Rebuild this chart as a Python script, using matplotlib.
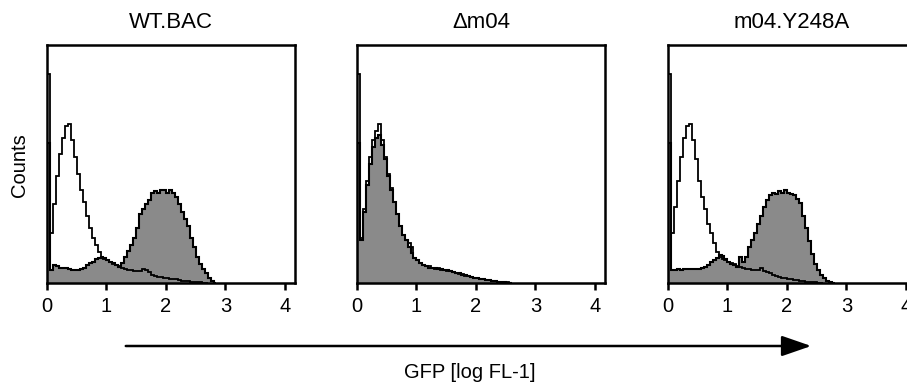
import numpy as np
import matplotlib
matplotlib.use("Agg")
import matplotlib.pyplot as plt

plt.rcParams["font.family"] = ["Liberation Sans", "DejaVu Sans"]

# histogram bins (log FL-1), 0.05 wide starting at 0
BIN_WIDTH = 0.05

titles = ["WT.BAC", "\u0394m04", "m04.Y248A"]

# unstained control (open) and GFP sample (filled), counts per bin
wt_open = [88, 21, 33, 45, 54, 61, 66, 67, 60, 53, 46, 39, 34, 28, 23, 19, 16, 13,
           11, 10, 9.5, 9, 8, 7.5, 7, 6.5, 6, 5.5, 5.5, 5, 5, 5, 6, 5.5, 4.5, 3.5,
           3, 2.5, 2.5, 2, 2, 1.8, 1.5, 1.5, 1.2, 1, 1, 0.8, 0.6, 0.5, 0.4, 0.3, 0.2, 0]
wt_filled = [59, 5.5, 7.5, 7, 6.5, 6.3, 6.5, 6, 5.5, 5.5, 5.5, 6, 6.5, 7.5, 8.5, 9,
             10, 10.5, 11, 10.5, 9.5, 9, 8.5, 7.5, 6.7, 8.5, 11, 13.5, 16, 19, 23,
             29, 31, 33, 35, 38, 38.5, 38, 39, 39, 38, 39, 38, 36, 33, 30, 27, 24,
             19, 15, 11, 8, 6, 4, 2, 0.8, 0]

d04_open = [88, 19, 31, 43, 53, 60, 64, 67, 60, 53, 46, 40, 34, 29, 24, 20, 18, 17,
            15, 10.5, 9.5, 8.5, 7.5, 7.2, 7, 6.5, 6, 6.2, 5.6, 5.5, 5.2, 5.1, 4.6,
            4.4, 3.9, 3.6, 3.1, 2.9, 2.4, 2.3, 2.1, 1.7, 1.6, 1.2, 1.2, 0.8, 0.8,
            0.5, 0.5, 0.3, 0.3, 0]
d04_filled = [59, 18, 30, 41, 50, 57, 61, 62, 58, 52, 45, 39, 34, 29, 24, 20, 18, 15,
              12.5, 10.5, 9.5, 8.5, 7.5, 7, 6.5, 6.3, 6.3, 6, 5.8, 5.5, 5.3, 5, 4.7,
              4.3, 4, 3.5, 3.2, 2.8, 2.5, 2.3, 2, 1.8, 1.5, 1.3, 1.1, 0.9, 0.7, 0.5,
              0.4, 0.3, 0.2, 0]

y248_open = [88, 21, 32, 43, 53, 61, 66, 67, 60, 52, 43, 36, 31, 25, 21, 17, 13, 11,
             10, 9.7, 9, 8.4, 8, 7.3, 6.8, 6.3, 6, 5.8, 5.5, 5.5, 5.5, 6.3, 5, 4.5,
             4, 3.3, 2.8, 2.4, 2.2, 2, 1.8, 1.6, 1.4, 1.2, 1, 0.8, 0.6, 0.5, 0.4,
             0.3, 0.2, 0]
y248_filled = [59, 5.5, 5.5, 6, 5.5, 5.8, 6, 5.8, 6, 5.7, 6, 6.3, 6.7, 7.5, 8.8, 9.5,
               10.5, 11.8, 11.5, 10, 8.8, 8, 7.6, 6.7, 11, 8.8, 11, 15, 18, 21, 25,
               28, 32, 35, 37, 38, 37.5, 38.5, 38, 39, 38, 37.5, 37, 35.5, 33.5, 28,
               23, 17.5, 12, 8, 5.5, 3.5, 2, 1, 0.4, 0]

open_series = [wt_open, d04_open, y248_open]
filled_series = [wt_filled, d04_filled, y248_filled]

xticks = [0, 1, 2, 3, 4]

W, H = 907, 388
fig = plt.figure(figsize=(W / 100, H / 100), dpi=100)

lefts = [47, 357, 668]
ax_w, ax_top, ax_bot = 248, 45, 283
FS = 14.5

for left, title, op, fi in zip(lefts, titles, open_series, filled_series):
    ax = fig.add_axes([left / W, (H - ax_bot) / H, ax_w / W, (ax_bot - ax_top) / H])
    edges_f = np.arange(len(fi) + 1) * BIN_WIDTH
    edges_o = np.arange(len(op) + 1) * BIN_WIDTH
    ax.stairs(fi, edges_f, fill=True, color="#8a8a8a", lw=0)
    ax.stairs(fi, edges_f, color="black", lw=1.5)
    ax.stairs(op, edges_o, color="black", lw=1.3)
    ax.set_xlim(0, 4.17)
    ax.set_ylim(0, 100)
    ax.set_xticks(xticks)
    ax.set_yticks([])
    ax.tick_params(axis="x", direction="out", length=5, width=1.8,
                   labelsize=FS, pad=5)
    for sp in ax.spines.values():
        sp.set_linewidth(1.8)
    ax.set_title(title, fontsize=16, pad=12)

fig.text(20 / W, 1 - 165 / H, "Counts", rotation=90, ha="center", va="center",
         fontsize=FS)
fig.text(470 / W, 1 - 372 / H, "GFP [log FL-1]", ha="center", va="center",
         fontsize=FS)

# long arrow under the panels
fig.add_artist(matplotlib.patches.FancyArrowPatch(
    (123 / W, 1 - 346 / H), (814 / W, 1 - 346 / H),
    transform=fig.transFigure, arrowstyle="-|>,head_length=1.3,head_width=0.45",
    mutation_scale=14, color="black", lw=1.8))

fig.savefig("out.png", dpi=100)
